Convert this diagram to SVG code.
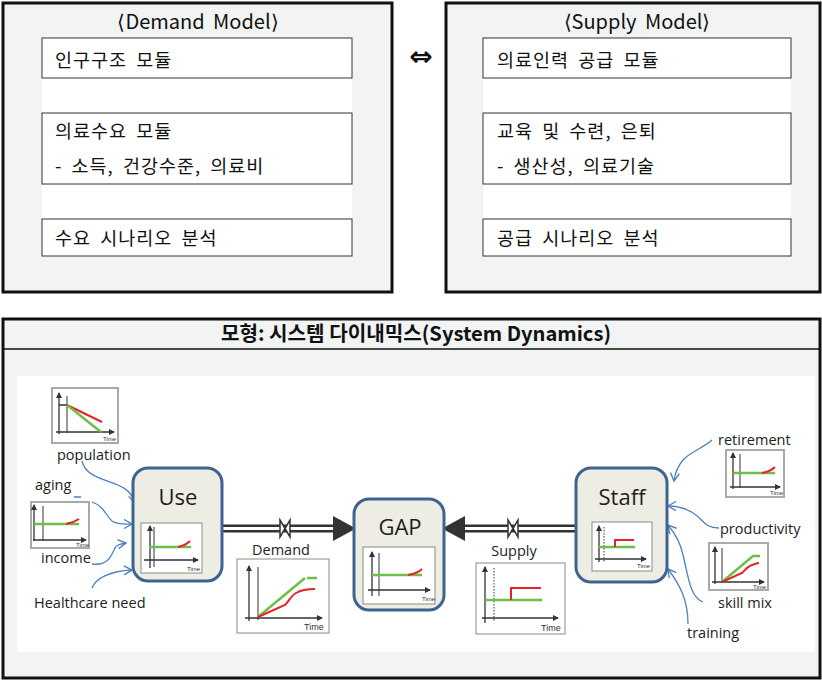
<svg xmlns="http://www.w3.org/2000/svg" width="822" height="680" viewBox="0 0 822 680">
  <defs>
    <style>
      .panel { fill: #f2f3f3; stroke: #111; stroke-width: 3; }
      .col { fill: #fff; }
      .mod { fill: #fff; stroke: #333; stroke-width: 1; }
      .kr { font-family: "Noto Sans CJK KR", "Noto Sans", sans-serif; font-size: 18.5px; fill: #111; letter-spacing: 1px; word-spacing: 4px; }
      .head { font-family: "Noto Sans CJK KR", "Noto Sans", sans-serif; font-size: 20px; fill: #111; text-anchor: middle; word-spacing: 4px; }
      .box { fill: #eeede3; stroke: #3d6491; stroke-width: 3; }
      .nlabel { font-family: "Open Sans", "Liberation Sans", sans-serif; font-size: 22px; fill: #1e1e1e; text-anchor: middle; }
      .lbl { font-family: "Open Sans", "Liberation Sans", sans-serif; font-size: 14.5px; fill: #222; }
      .chart { fill: #fff; stroke: #8a8a8a; stroke-width: 1; }
      .frame { fill: #fff; stroke: #a9a9a9; stroke-width: 2; }
      .ax { stroke: #333; stroke-width: 1.3; fill: none; marker-end: url(#axhead); }
      .vl { stroke: #333; stroke-width: 1; fill: none; }
      .dot { stroke: #333; stroke-width: 1; stroke-dasharray: 1.5 1.5; fill: none; }
      .g { stroke: #6cc04a; stroke-width: 2.5; fill: none; }
      .r { stroke: #e8202a; stroke-width: 2; fill: none; }
      .tm { font-family: "Liberation Sans", sans-serif; font-size: 6px; fill: #333; }
      .tmb { font-family: "Liberation Sans", sans-serif; font-size: 9px; fill: #333; }
      .link { fill: none; stroke: #4f81bd; stroke-width: 1.3; marker-end: url(#open); }
      .pipe { stroke: #333; stroke-width: 8; fill: none; }
      .pipein { stroke: #fff; stroke-width: 3; fill: none; }
      .valve { fill: #fff; stroke: #333; stroke-width: 1.5; }
      .head3 { fill: #333; }
    </style>
    <marker id="axhead" markerUnits="userSpaceOnUse" markerWidth="6" markerHeight="6" refX="5" refY="3" orient="auto">
      <path d="M0,0 L6,3 L0,6 Z" fill="#333"/>
    </marker>
    <marker id="open" markerUnits="userSpaceOnUse" markerWidth="12" markerHeight="12" refX="9" refY="5" orient="auto">
      <path d="M1,0.5 L9,5 L1,9.5" fill="none" stroke="#4f81bd" stroke-width="1.4"/>
    </marker>
  </defs>

  <!-- top: demand model -->
  <g id="demand-model">
    <rect class="panel" x="3" y="3" width="389" height="289"/>
    <rect class="col" x="42" y="38" width="310" height="218"/>
    <text class="head" x="198" y="29">⟨Demand  Model⟩</text>
    <rect class="mod" x="42" y="38" width="310" height="40"/>
    <text class="kr" x="55" y="67">인구구조 모듈</text>
    <rect class="mod" x="42" y="113" width="310" height="71"/>
    <text class="kr" x="55" y="138">의료수요 모듈</text>
    <text class="kr" x="55" y="173">- 소득, 건강수준, 의료비</text>
    <rect class="mod" x="42" y="219" width="310" height="37"/>
    <text class="kr" x="55" y="245">수요 시나리오 분석</text>
  </g>

  <text x="421" y="66" font-family="DejaVu Sans, sans-serif" font-size="28" font-weight="bold" fill="#111" text-anchor="middle">⇔</text>

  <!-- top: supply model -->
  <g id="supply-model">
    <rect class="panel" x="446" y="3" width="374" height="289"/>
    <rect class="col" x="483" y="38" width="308" height="218"/>
    <text class="head" x="637" y="29">⟨Supply  Model⟩</text>
    <rect class="mod" x="483" y="38" width="308" height="40"/>
    <text class="kr" x="497" y="67">의료인력 공급 모듈</text>
    <rect class="mod" x="483" y="113" width="308" height="71"/>
    <text class="kr" x="497" y="138">교육 및 수련, 은퇴</text>
    <text class="kr" x="497" y="173">- 생산성, 의료기술</text>
    <rect class="mod" x="483" y="219" width="308" height="37"/>
    <text class="kr" x="497" y="245">공급 시나리오 분석</text>
  </g>

  <!-- bottom: system dynamics panel -->
  <g id="sd-panel">
    <rect class="panel" x="3" y="319" width="817" height="359"/>
    <line x1="3" y1="349" x2="820" y2="349" stroke="#111" stroke-width="1.5"/>
    <text x="416" y="341" font-family="Noto Sans CJK KR, sans-serif" font-size="20" font-weight="bold" fill="#111" text-anchor="middle" textLength="390" lengthAdjust="spacingAndGlyphs">모형: 시스템 다이내믹스(System Dynamics)</text>
    <rect x="17" y="376" width="798" height="276" fill="#fff"/>
  </g>

  <!-- flows and influence links -->
  <g id="connectors">
    <!-- demand flow: Use -> GAP -->
    <line class="pipe" x1="222" y1="528.5" x2="336" y2="528.5"/>
    <line class="pipein" x1="222" y1="528.5" x2="337" y2="528.5"/>
    <polygon class="head3" points="333,516 356,528.5 333,541"/>
    <polygon class="valve" points="280,520 290,537 290,520 280,537"/>
    <text class="lbl" x="281" y="555" text-anchor="middle">Demand</text>

    <!-- supply flow: Staff -> GAP -->
    <line class="pipe" x1="462" y1="528.5" x2="577" y2="528.5"/>
    <line class="pipein" x1="461" y1="528.5" x2="577" y2="528.5"/>
    <polygon class="head3" points="465,516 442,528.5 465,541"/>
    <polygon class="valve" points="508,520 518,537 518,520 508,537"/>
    <text class="lbl" x="514" y="556" text-anchor="middle">Supply</text>

    <!-- inputs to Use -->
    <path class="link" d="M82,461 C88,486 128,476 135,503"/>
    <path class="link" d="M74,497 L81,497 M92,502 C104,506 106,516 112,521 C118,525 125,524 132,524"/>
    <path class="link" d="M92,564 C108,566 111,556 114,550 C116,545 119,544 126,543"/>
    <path class="link" d="M92,588 C96,578 110,571 132,570"/>

    <!-- inputs to Staff -->
    <path class="link" d="M712,440 C705,447 690,452 683,460 C678,466 675,472 674,481"/>
    <path class="link" d="M719,528 C705,528 703,520 696,515 C688,509 679,506 668,506"/>
    <path class="link" d="M703,602 C690,598 688,575 683,555 C680,540 673,531 668,525"/>
    <path class="link" d="M688,624 C688,600 680,585 668,569"/>
  </g>

  <!-- stocks -->
  <g id="use">
    <rect class="box" x="133" y="468" width="89" height="113" rx="15"/>
    <text class="nlabel" x="178" y="505">Use</text>
    <rect class="chart" x="141" y="523" width="61" height="50"/>
    <line class="vl" x1="154" y1="527" x2="154" y2="567"/>
    <line class="ax" x1="150" y1="568" x2="150" y2="526"/>
    <line class="ax" x1="144" y1="560" x2="198" y2="560"/>
    <line class="g" x1="149" y1="547" x2="191" y2="547"/>
    <path class="r" d="M178,547 C183,546 187,544 190,541"/>
    <text class="tm" x="187" y="571">Time</text>
  </g>

  <g id="gap">
    <rect class="box" x="354" y="499" width="90" height="111" rx="15"/>
    <text class="nlabel" x="400" y="535">GAP</text>
    <rect class="chart" x="363" y="547" width="72" height="57"/>
    <line class="vl" x1="379" y1="553" x2="379" y2="596"/>
    <line class="ax" x1="372" y1="596" x2="372" y2="552"/>
    <line class="ax" x1="368" y1="590" x2="430" y2="590"/>
    <line class="g" x1="372" y1="575" x2="422" y2="575"/>
    <path class="r" d="M408,575 C414,574 419,572 422,569"/>
    <text class="tm" x="422" y="601">Time</text>
  </g>

  <g id="staff">
    <rect class="box" x="576" y="468" width="91" height="114" rx="15"/>
    <text class="nlabel" x="622" y="505">Staff</text>
    <rect class="chart" x="592" y="522" width="60" height="49"/>
    <line class="dot" x1="604" y1="527" x2="604" y2="562"/>
    <line class="ax" x1="599" y1="562" x2="599" y2="526"/>
    <line class="ax" x1="595" y1="559" x2="646" y2="559"/>
    <line class="g" x1="599" y1="547" x2="635" y2="547"/>
    <path class="r" d="M615,547 L615,540 L634,540"/>
    <text class="tm" x="637" y="568">Time</text>
  </g>

  <!-- variables driving demand -->
  <g id="population">
    <rect class="frame" x="52" y="388" width="66" height="55"/>
    <line class="vl" x1="67" y1="396" x2="67" y2="433"/>
    <line class="ax" x1="59" y1="434" x2="59" y2="393"/>
    <line class="ax" x1="56" y1="432" x2="114" y2="432"/>
    <line x1="59" y1="405" x2="67" y2="405" stroke="#333" stroke-width="1.5"/>
    <line class="r" x1="67" y1="405" x2="102" y2="422"/>
    <line class="g" x1="67" y1="405" x2="101" y2="432"/>
    <text class="tm" x="103" y="441">Time</text>
    <text class="lbl" x="57" y="460">population</text>
  </g>

  <g id="aging-income">
    <text class="lbl" x="35" y="490">aging</text>
    <rect class="frame" x="31" y="502" width="58" height="46"/>
    <line class="vl" x1="43" y1="506" x2="43" y2="541"/>
    <line class="ax" x1="34" y1="541" x2="34" y2="505"/>
    <line class="ax" x1="33" y1="540" x2="86" y2="540"/>
    <line class="g" x1="34" y1="524" x2="79" y2="524"/>
    <path class="r" d="M66,524 C71,523 76,521 79,519"/>
    <text class="tm" x="76" y="547">Time</text>
    <text class="lbl" x="41" y="563">income</text>
  </g>

  <g id="healthcare-need">
    <text class="lbl" x="34" y="608">Healthcare need</text>
  </g>

  <g id="demand-chart">
    <rect class="chart" x="237" y="559" width="92" height="74"/>
    <line class="vl" x1="258" y1="567" x2="258" y2="620"/>
    <line class="ax" x1="249" y1="621" x2="249" y2="566"/>
    <line class="ax" x1="245" y1="618" x2="322" y2="618"/>
    <path class="g" d="M258,617 L305,578"/>
    <line class="g" x1="307" y1="578" x2="317" y2="578"/>
    <path class="r" d="M258,617 L285,605 C289,601 291,596 296,593 C301,590 308,589 315,589"/>
    <text class="tmb" x="304" y="630">Time</text>
  </g>

  <!-- variables driving supply -->
  <g id="supply-chart">
    <rect class="chart" x="476" y="563" width="89" height="71"/>
    <line class="dot" x1="494" y1="568" x2="494" y2="622"/>
    <line class="ax" x1="485" y1="623" x2="485" y2="567"/>
    <line class="ax" x1="482" y1="618" x2="558" y2="618"/>
    <line class="g" x1="485" y1="600" x2="542" y2="600"/>
    <path class="r" d="M511,600 L511,588 L541,588"/>
    <text class="tmb" x="541" y="631">Time</text>
  </g>

  <g id="retirement">
    <text class="lbl" x="718" y="445">retirement</text>
    <rect class="frame" x="726" y="450" width="58" height="47"/>
    <line class="vl" x1="740" y1="454" x2="740" y2="488"/>
    <line class="ax" x1="733" y1="489" x2="733" y2="453"/>
    <line class="ax" x1="730" y1="487" x2="780" y2="487"/>
    <line class="g" x1="733" y1="473" x2="775" y2="473"/>
    <path class="r" d="M762,473 C767,472 772,470 775,467"/>
    <text class="tm" x="770" y="495">Time</text>
  </g>

  <g id="productivity">
    <text class="lbl" x="720" y="534">productivity</text>
  </g>

  <g id="skill-mix">
    <rect class="frame" x="709" y="543" width="59" height="47"/>
    <line class="vl" x1="722" y1="548" x2="722" y2="583"/>
    <line class="ax" x1="715" y1="584" x2="715" y2="547"/>
    <line class="ax" x1="712" y1="582" x2="764" y2="582"/>
    <path class="g" d="M722,582 L753,556 L760,556"/>
    <path class="r" d="M722,582 L742,573 C746,569 748,566 752,565 C755,564 757,563 759,563"/>
    <text class="tm" x="753" y="589">Time</text>
    <text class="lbl" x="718" y="608">skill mix</text>
  </g>

  <g id="training">
    <text class="lbl" x="687" y="638">training</text>
  </g>
</svg>
